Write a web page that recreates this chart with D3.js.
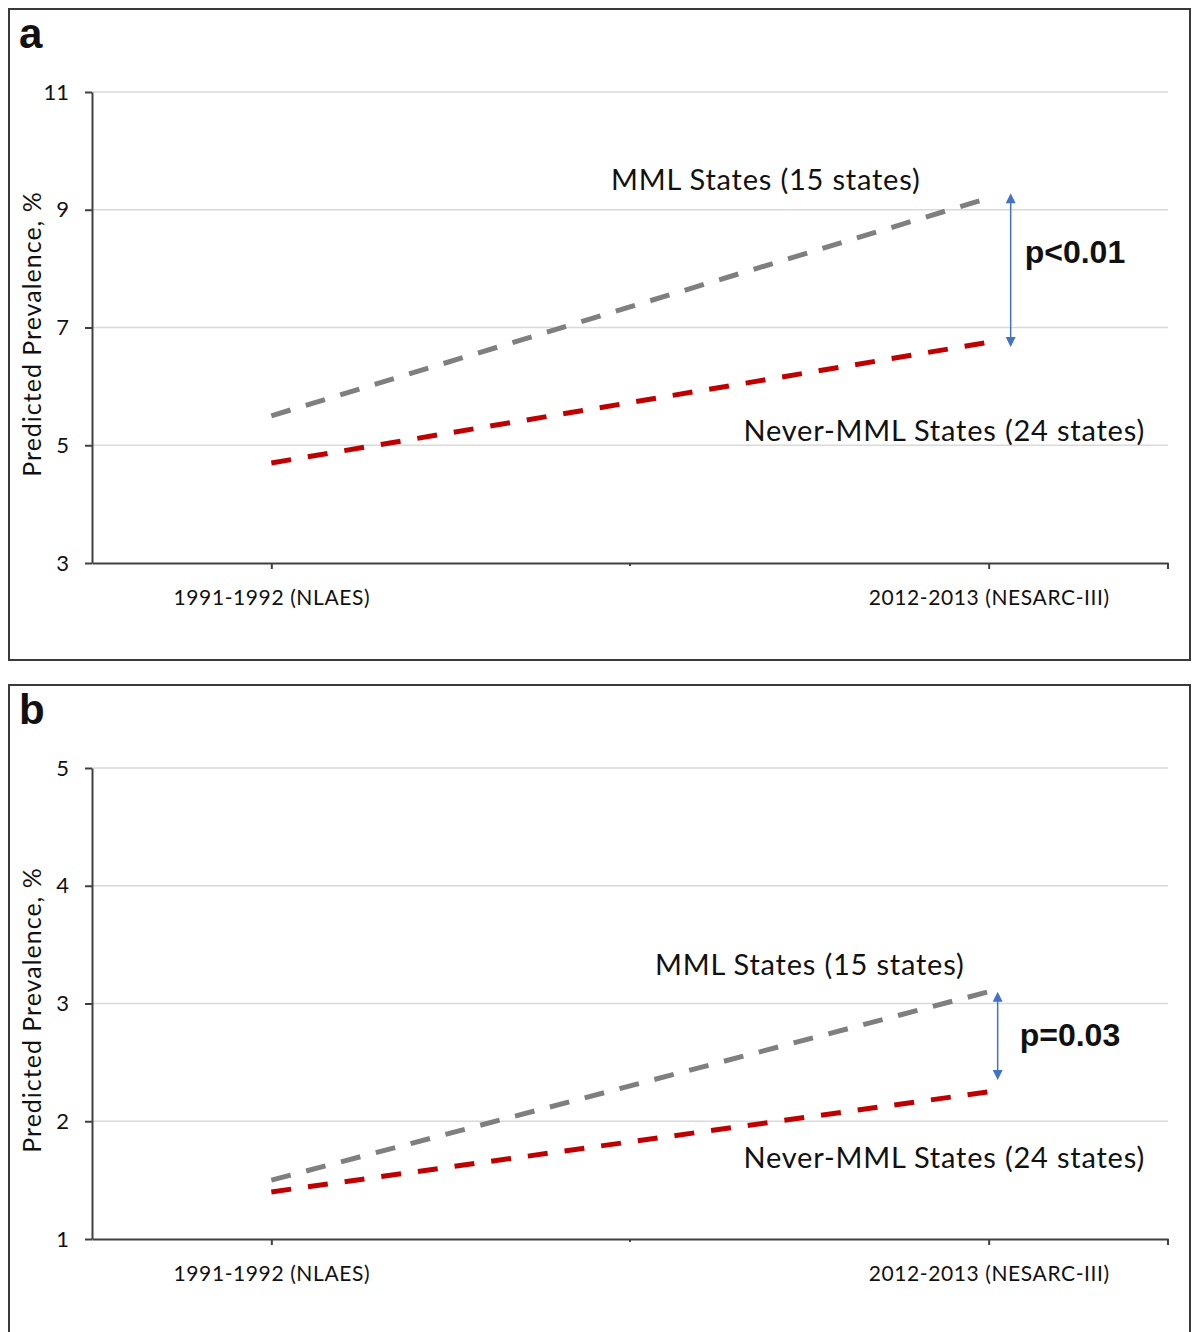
<!DOCTYPE html>
<html>
<head>
<meta charset="utf-8">
<script src="https://cdn.jsdelivr.net/npm/d3@7"></script>
<style>
  body { margin: 0; background: #fff; }
  text { font-family: Lato, "Open Sans", sans-serif; fill: #111; }
</style>
</head>
<body>
<svg id="chart" width="1193" height="1332"></svg>
<script>
const categories = ["1991-1992 (NLAES)", "2012-2013 (NESARC-III)"];

// panel a
const mmlA = [5.5, 9.2];
const neverA = [4.7, 6.75];
const ticksA = [3, 5, 7, 9, 11];
const arrowA = [9.28, 6.67];
const pTextA = "p<0.01";

// panel b
const mmlB = [1.5, 3.1];
const neverB = [1.4, 2.25];
const ticksB = [1, 2, 3, 4, 5];
const arrowB = [3.1, 2.35];
const pTextB = "p=0.03";

const mmlLabel = "MML States (15 states)";
const neverLabel = "Never-MML States (24 states)";
const yLabel = "Predicted Prevalence, %";

const svg = d3.select("#chart");

function drawPanel(opt) {
  const top = opt.top;
  const g = svg.append("g");

  // frame
  g.append("rect")
    .attr("x", 9).attr("y", top + 9)
    .attr("width", 1181).attr("height", opt.frameH)
    .attr("fill", "none")
    .attr("stroke", "#3a3a3a")
    .attr("stroke-width", 2);

  g.append("text")
    .attr("x", 19).attr("y", top + 48)
    .style("font-family", "'Liberation Sans', Arial, sans-serif")
    .style("font-weight", "bold")
    .style("font-size", "42px")
    .text(opt.letter);

  const x = d3.scalePoint()
    .domain(categories)
    .range([92, 1168])
    .padding(0.25);

  const y = d3.scaleLinear()
    .domain(d3.extent(opt.ticks))
    .range([top + 563, top + 92]);

  // gridlines
  g.append("g")
    .selectAll("line")
    .data(opt.ticks.slice(1))
    .join("line")
    .attr("x1", 92).attr("x2", 1168)
    .attr("y1", d => y(d)).attr("y2", d => y(d))
    .attr("stroke", "#d9d9d9")
    .attr("stroke-width", 1.5);

  // y axis
  const yAxis = g.append("g")
    .attr("transform", "translate(92,0)")
    .call(d3.axisLeft(y).tickValues(opt.ticks).tickFormat(d3.format("d"))
      .tickSize(7).tickPadding(16).tickSizeOuter(0));
  yAxis.select(".domain").attr("stroke", "#404040").attr("stroke-width", 2);
  yAxis.selectAll(".tick line").attr("stroke", "#404040").attr("stroke-width", 2);
  yAxis.selectAll(".tick text")
    .style("font-family", "Lato, sans-serif")
    .style("font-size", "22px")
    .attr("fill", "#111");

  // x axis
  const xAxis = g.append("g")
    .attr("transform", `translate(0,${top + 563})`)
    .call(d3.axisBottom(x).tickSize(6).tickPadding(21).tickSizeOuter(0));
  xAxis.select(".domain").attr("stroke", "#404040").attr("stroke-width", 2);
  xAxis.selectAll(".tick line").attr("stroke", "#404040").attr("stroke-width", 2);
  xAxis.selectAll(".tick text")
    .style("font-family", "Lato, sans-serif")
    .style("font-size", "21px")
    .style("letter-spacing", "0.6px")
    .attr("fill", "#111");

  // small ticks between and after the categories
  const mid = (x(categories[0]) + x(categories[1])) / 2;
  xAxis.selectAll(".sep")
    .data([mid, 1168])
    .join("line")
    .attr("x1", d => d).attr("x2", d => d)
    .attr("y1", 0).attr("y2", (d, i) => i === 0 ? 3 : 6)
    .attr("stroke", "#404040")
    .attr("stroke-width", 2);

  const line = d3.line()
    .x((d, i) => x(categories[i]))
    .y(d => y(d));

  g.append("path")
    .datum(opt.mml)
    .attr("d", line)
    .attr("fill", "none")
    .attr("stroke", "#7f7f7f")
    .attr("stroke-width", 5)
    .attr("stroke-dasharray", "20 16");

  g.append("path")
    .datum(opt.never)
    .attr("d", line)
    .attr("fill", "none")
    .attr("stroke", "#c00000")
    .attr("stroke-width", 5)
    .attr("stroke-dasharray", "20 17");

  // double-headed arrow
  const ax = x(categories[1]) + opt.arrowDx;
  const y1 = y(opt.arrow[0]), y2 = y(opt.arrow[1]);
  g.append("line")
    .attr("x1", ax).attr("x2", ax)
    .attr("y1", y1 + 6).attr("y2", y2 - 6)
    .attr("stroke", "#4472c4")
    .attr("stroke-width", 1.5);
  g.append("path")
    .attr("d", `M${ax},${y1} l-5,10 l10,0 Z M${ax},${y2} l-5,-10 l10,0 Z`)
    .attr("fill", "#4472c4");

  g.append("text")
    .attr("x", ax + opt.pDx)
    .attr("y", y(opt.pY))
    .style("font-family", "'Liberation Sans', Arial, sans-serif")
    .style("font-weight", "bold")
    .style("font-size", "32px")
    .text(opt.pText);

  g.append("text")
    .attr("x", opt.mmlLabelX)
    .attr("y", y(opt.mmlLabelY))
    .attr("dy", "0.35em")
    .style("font-size", "29px")
    .style("letter-spacing", "0.8px")
    .text(mmlLabel);

  g.append("text")
    .attr("x", 1145)
    .attr("y", y(opt.neverLabelY))
    .attr("dy", "0.35em")
    .attr("text-anchor", "end")
    .style("font-size", "29px")
    .style("letter-spacing", "0.8px")
    .text(neverLabel);

  g.append("text")
    .attr("transform", `translate(41,${top + 334}) rotate(-90)`)
    .attr("text-anchor", "middle")
    .style("font-size", "25px")
    .style("letter-spacing", "1px")
    .text(yLabel);
}

drawPanel({
  top: 0, frameH: 651, letter: "a",
  ticks: ticksA, mml: mmlA, never: neverA,
  arrow: arrowA, arrowDx: 22, pText: pTextA, pDx: 14, pY: 8.1,
  mmlLabelX: 611, mmlLabelY: 9.5, neverLabelY: 5.25
});

drawPanel({
  top: 676, frameH: 700, letter: "b",
  ticks: ticksB, mml: mmlB, never: neverB,
  arrow: arrowB, arrowDx: 9, pText: pTextB, pDx: 22, pY: 2.64,
  mmlLabelX: 655, mmlLabelY: 3.33, neverLabelY: 1.69
});
</script>
</body>
</html>
